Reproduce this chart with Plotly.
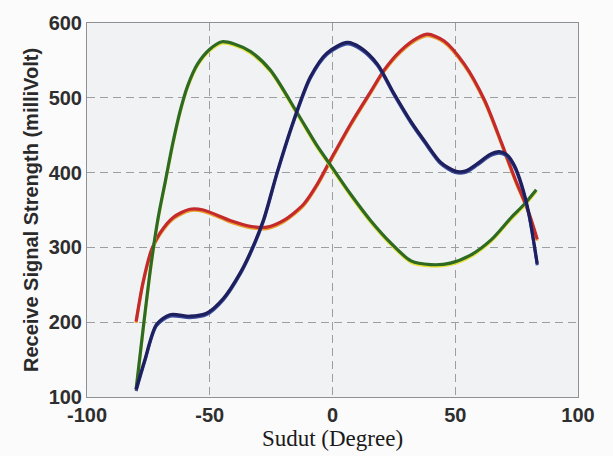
import plotly.graph_objects as go

# Angles (degree) and received signal strength (milliVolt) per series
red_x = [-80, -77.2, -73.7, -70.3, -64.9, -58.1, -52.6, -41.7, -33, -26.7, -19.9, -11.7, -6.3, -0.8,
         7.4, 15.5, 21, 27.8, 34.6, 38.7, 45.5, 53.7, 61.9, 68.7, 74.2, 79.6, 83.4]
red_y = [201, 253, 297, 319, 340, 351, 350, 336, 328, 327, 336, 358, 384, 417,
         465, 508, 537, 563, 580, 585, 576, 545, 497, 441, 393, 350, 311]

green_x = [-80, -77, -74, -71, -68, -65, -62, -59, -55, -50, -45, -40, -33.5, -25.3, -14.4, -6.3,
           -0.8, 7.4, 15.5, 23.7, 32, 40, 48, 56.4, 64.6, 72.8, 78.2, 83]
green_y = [110, 195, 275, 340, 390, 440, 483, 516, 545, 565, 575, 572, 562, 537, 480, 436,
           410, 371, 336, 306, 282, 277, 279, 290, 310, 340, 358, 377]

navy_x = [-80, -76.5, -71.7, -66.2, -58.1, -51.3, -44.4, -37.6, -33.5, -28.1, -22.6, -15.8, -9, -2.2,
          6, 11.4, 18.3, 25, 32, 38, 44, 50, 54, 59, 64, 68, 71, 74, 77, 80, 83.4]
navy_y = [110, 149, 197, 210, 208, 212, 232, 266, 293, 337, 400, 470, 528, 560,
          574, 567, 545, 506, 468, 440, 414, 402, 402, 412, 424, 428, 424, 410, 384, 345, 278]

x_ticks = [-100, -50, 0, 50, 100]
y_ticks = [100, 200, 300, 400, 500, 600]

SHADOW = 2.0  # small downward offset of the yellowish print halo, in mV

fig = go.Figure()

def add_series(xs, ys, color, halo):
    fig.add_trace(go.Scatter(x=xs, y=[v - SHADOW for v in ys], mode="lines",
                             line=dict(color=halo, width=3, shape="spline", smoothing=0.8),
                             hoverinfo="skip", showlegend=False))
    fig.add_trace(go.Scatter(x=xs, y=ys, mode="lines",
                             line=dict(color=color, width=3.2, shape="spline", smoothing=0.8),
                             showlegend=False))

add_series(red_x, red_y, "#c42a2c", "#e8a030")
add_series(green_x, green_y, "#2e6a22", "#e6e23a")
add_series(navy_x, navy_y, "#1d1f5e", "#3a4a9a")

axis_common = dict(showgrid=True, gridcolor="#9c9ea2", griddash="8px,5px", gridwidth=1.2,
                   showline=True, linecolor="#8e9094", linewidth=1, mirror=True,
                   ticks="", zeroline=False,
                   tickfont=dict(family="Liberation Sans, Arial", size=20, color="#2e2e2e", weight="bold"))

fig.update_layout(
    width=613, height=456,
    margin=dict(l=87, r=35, t=17, b=58),
    paper_bgcolor="#fbfbfc",
    plot_bgcolor="#f0f2f4",
    xaxis=dict(range=[-100, 100], tickvals=x_ticks, ticktext=[str(v) for v in x_ticks],
               title=dict(text="Sudut (Degree)", standoff=2,
                          font=dict(family="Liberation Serif, Times New Roman", size=23, color="#1a1a1a")),
               **axis_common),
    yaxis=dict(range=[100, 600], tickvals=y_ticks, ticktext=[str(v) for v in y_ticks],
               title=dict(text="Receive Signal Strength (milliVolt)", standoff=4,
                          font=dict(family="Liberation Sans, Arial", size=20, color="#2a2a2a", weight="bold")),
               **axis_common),
)

fig.write_html("out.html", config={"displayModeBar": False},
               post_script="document.body.style.margin='0';")
